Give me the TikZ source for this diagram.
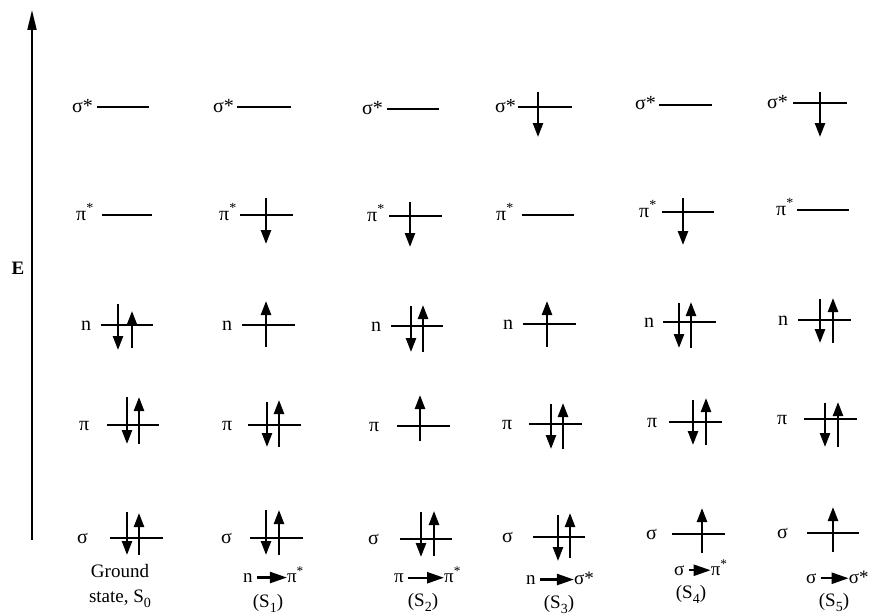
\documentclass[tikz,border=0pt]{standalone}
\usepackage{fontspec}
\setmainfont{Liberation Serif}
\usetikzlibrary{arrows.meta, positioning}
\newcommand{\lowidx}[1]{\raisebox{-0.28em}{\fontsize{14}{14}\selectfont #1}}
\tikzset{
  mo level/.style={line width=1.5pt},
  mo spin/.style={line width=2.4pt, -{Triangle[length=14pt,width=10pt]}},
  mo label/.style={inner sep=0pt, anchor=base west, font=\fontsize{20}{22}\selectfont},
  st label/.style={inner sep=0pt, anchor=base, font=\fontsize{19}{21}\selectfont},
  tr arrow/.style={line width=2.4pt, -{Triangle[length=17pt,width=11pt]}, shorten <=4pt}
}

\begin{document}
\begin{tikzpicture}[x=1pt, y=-1pt]
\useasboundingbox (0,0) rectangle (882,615);

% ====== energy axis ======
\coordinate (ebot) at (32,540);
\coordinate (etop) at (32,10);
\draw[line width=2pt, -{Triangle[length=20pt,width=9pt]}] (ebot) -- (etop);
\node[font=\fontsize{19}{21}\selectfont\bfseries] (elab) at (18,268) {E};

% ====== S0: ground state ======
\node[mo label] (a1) at (72,112) {σ*};
\draw[mo level] (97,107) -- (149,107);
\node[mo label] (a2) at (76,220) {π\textsuperscript{*}};
\draw[mo level] (102,215) -- (152,215);
\node[mo label] (a3) at (81,330) {n};
\draw[mo level] (101,325) -- (153,325);
\draw[mo spin] (118,304) -- (118,350);
\draw[mo spin] (132,348) -- (132,311);
\node[mo label] (a4) at (79,430) {π};
\draw[mo level] (107,425) -- (159,425);
\draw[mo spin] (127,397) -- (127,444);
\draw[mo spin] (139,444) -- (139,397);
\node[mo label] (a5) at (77,543) {σ};
\draw[mo level] (110,538) -- (163,538);
\draw[mo spin] (127,512) -- (127,555);
\draw[mo spin] (139,555) -- (139,513);
\node[st label] (a6) at (120,577) {Ground};
\node[st label] (a7) at (120,602) {state, S\lowidx{0}};

% ====== S1: n -> pi* ======
\node[mo label] (b1) at (213,112) {σ*};
\draw[mo level] (237,107) -- (291,107);
\node[mo label] (b2) at (219,220) {π\textsuperscript{*}};
\draw[mo level] (240,215) -- (293,215);
\draw[mo spin] (266,198) -- (266,244);
\node[mo label] (b3) at (222,330) {n};
\draw[mo level] (242,325) -- (295,325);
\draw[mo spin] (266,347) -- (266,301);
\node[mo label] (b4) at (222,430) {π};
\draw[mo level] (248,425) -- (301,425);
\draw[mo spin] (267,402) -- (267,447);
\draw[mo spin] (279,447) -- (279,400);
\node[mo label] (b5) at (221,543) {σ};
\draw[mo level] (250,538) -- (303,538);
\draw[mo spin] (266,510) -- (266,555);
\draw[mo spin] (279,555) -- (279,510);
\node[st label, anchor=base west] (b6) at (243,582) {n};
\node[st label, base right=34pt of b6] (b7) {π\textsuperscript{*}};
\draw[tr arrow] (b6.east) -- (b6.east -| b7.west);
\node[st label] (b8) at (268,607) {(S\lowidx{1})};

% ====== S2: pi -> pi* ======
\node[mo label] (c1) at (362,114) {σ*};
\draw[mo level] (387,109) -- (439,109);
\node[mo label] (c2) at (367,221) {π\textsuperscript{*}};
\draw[mo level] (389,216) -- (442,216);
\draw[mo spin] (410,202) -- (410,247);
\node[mo label] (c3) at (371,331) {n};
\draw[mo level] (391,326) -- (443,326);
\draw[mo spin] (411,306) -- (411,352);
\draw[mo spin] (423,352) -- (423,305);
\node[mo label] (c4) at (369,431) {π};
\draw[mo level] (397,426) -- (450,426);
\draw[mo spin] (420,441) -- (420,395);
\node[mo label] (c5) at (368,544) {σ};
\draw[mo level] (400,539) -- (452,539);
\draw[mo spin] (421,512) -- (421,557);
\draw[mo spin] (434,556) -- (434,511);
\node[st label, anchor=base west] (c6) at (394,582) {π};
\node[st label, base right=40pt of c6] (c7) {π\textsuperscript{*}};
\draw[tr arrow] (c6.east) -- (c6.east -| c7.west);
\node[st label] (c8) at (423,606) {(S\lowidx{2})};

% ====== S3: n -> sigma* ======
\node[mo label] (d1) at (495,112) {σ*};
\draw[mo level] (518,107) -- (572,107);
\draw[mo spin] (538,92) -- (538,137);
\node[mo label] (d2) at (496,220) {π\textsuperscript{*}};
\draw[mo level] (522,215) -- (574,215);
\node[mo label] (d3) at (503,329) {n};
\draw[mo level] (523,324) -- (576,324);
\draw[mo spin] (547,347) -- (547,301);
\node[mo label] (d4) at (502,429) {π};
\draw[mo level] (529,424) -- (582,424);
\draw[mo spin] (551,404) -- (551,449);
\draw[mo spin] (563,449) -- (563,403);
\node[mo label] (d5) at (502,542) {σ};
\draw[mo level] (533,537) -- (585,537);
\draw[mo spin] (558,515) -- (558,561);
\draw[mo spin] (570,558) -- (570,513);
\node[st label, anchor=base west] (d6) at (526,584) {n};
\node[st label, base right=38pt of d6] (d7) {σ*};
\draw[tr arrow] (d6.east) -- (d6.east -| d7.west);
\node[st label] (d8) at (559,608) {(S\lowidx{3})};

% ====== S4: sigma -> pi* ======
\node[mo label] (e1) at (635,110) {σ*};
\draw[mo level] (659,105) -- (712,105);
\node[mo label] (e2) at (639,217) {π\textsuperscript{*}};
\draw[mo level] (662,212) -- (714,212);
\draw[mo spin] (683,198) -- (683,245);
\node[mo label] (e3) at (644,327) {n};
\draw[mo level] (663,322) -- (716,322);
\draw[mo spin] (679,303) -- (679,348);
\draw[mo spin] (691,348) -- (691,302);
\node[mo label] (e4) at (647,427) {π};
\draw[mo level] (669,422) -- (722,422);
\draw[mo spin] (693,400) -- (693,445);
\draw[mo spin] (706,445) -- (706,398);
\node[mo label] (e5) at (646,539) {σ};
\draw[mo level] (672,534) -- (725,534);
\draw[mo spin] (702,553) -- (702,508);
\node[st label, anchor=base west] (e6) at (674,575) {σ};
\node[st label, base right=26pt of e6] (e7) {π\textsuperscript{*}};
\draw[tr arrow] (e6.east) -- (e6.east -| e7.west);
\node[st label] (e8) at (691,598) {(S\lowidx{4})};

% ====== S5: sigma -> sigma* ======
\node[mo label] (f1) at (767,108) {σ*};
\draw[mo level] (793,103) -- (847,103);
\draw[mo spin] (820,92) -- (820,137);
\node[mo label] (f2) at (776,215) {π\textsuperscript{*}};
\draw[mo level] (797,210) -- (849,210);
\node[mo label] (f3) at (778,325) {n};
\draw[mo level] (798,320) -- (851,320);
\draw[mo spin] (820,299) -- (820,343);
\draw[mo spin] (833,343) -- (833,298);
\node[mo label] (f4) at (777,424) {π};
\draw[mo level] (804,419) -- (857,419);
\draw[mo spin] (825,403) -- (825,447);
\draw[mo spin] (838,447) -- (838,402);
\node[mo label] (f5) at (777,538) {σ};
\draw[mo level] (807,533) -- (859,533);
\draw[mo spin] (833,552) -- (833,507);
\node[st label, anchor=base west] (f6) at (806,583) {σ};
\node[st label, base right=32pt of f6] (f7) {σ*};
\draw[tr arrow] (f6.east) -- (f6.east -| f7.west);
\node[st label] (f8) at (834,606) {(S\lowidx{5})};

\end{tikzpicture}
\end{document}
